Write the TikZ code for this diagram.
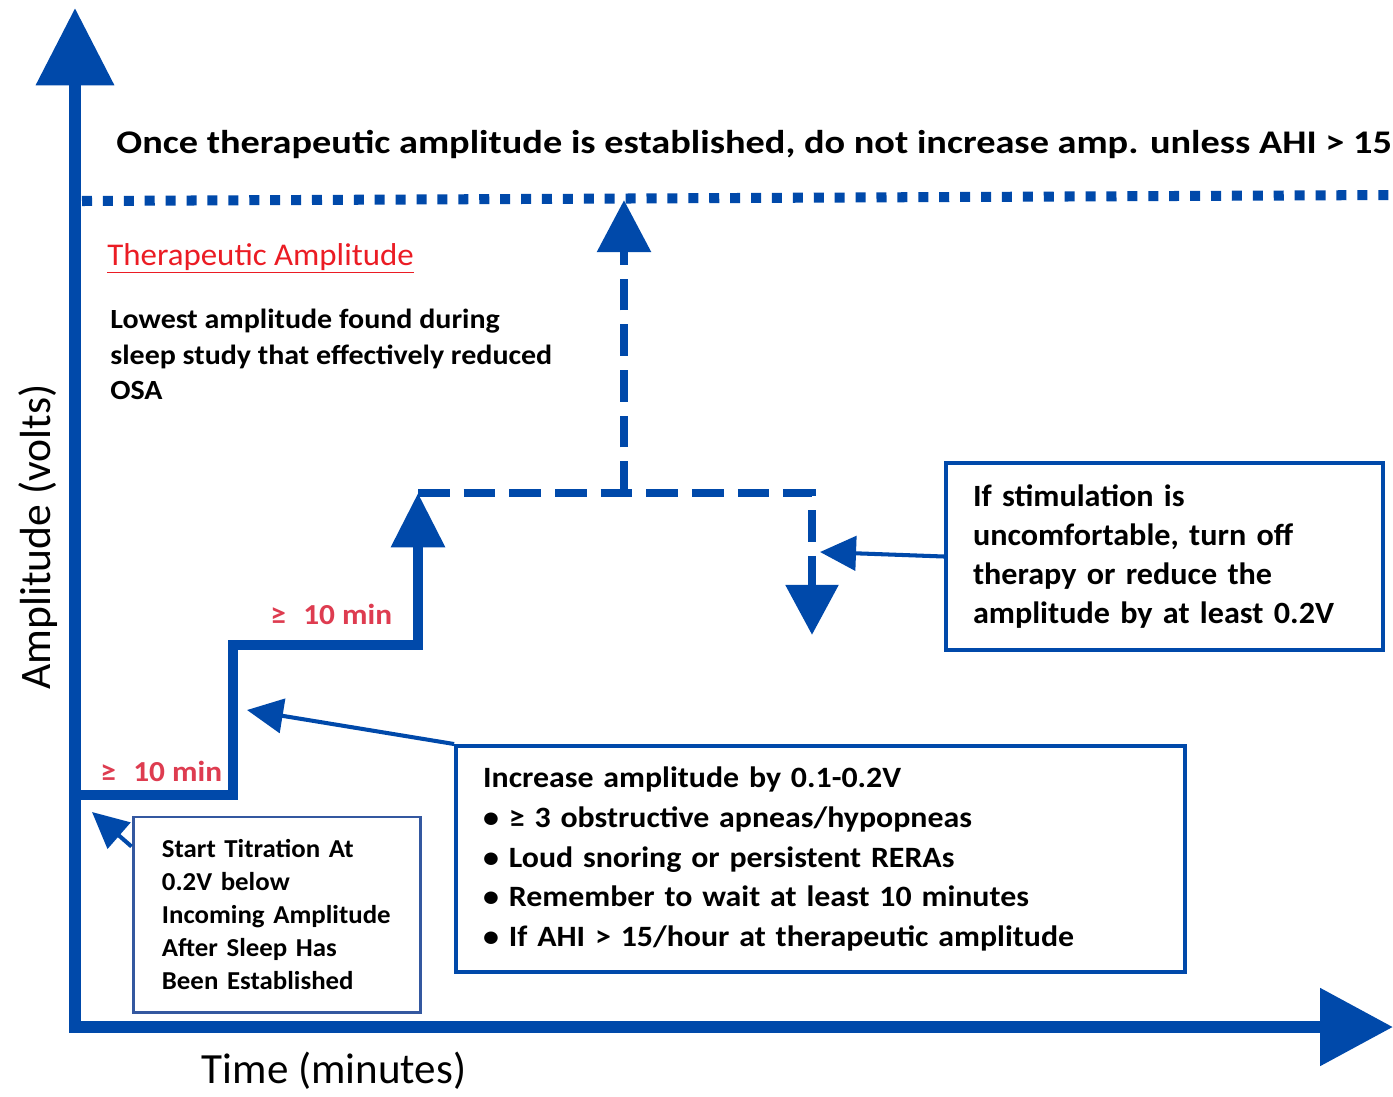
\documentclass[tikz,border=0pt]{standalone}
\usepackage{fontspec}
\setmainfont{Carlito}
\newfontfamily\strA[FakeStretch=1.04]{Carlito}
\newfontfamily\strB[FakeStretch=1.08]{Carlito}
\newfontfamily\strC[FakeStretch=1.16]{Carlito}
\usetikzlibrary{arrows.meta}
\definecolor{axisblue}{RGB}{0,73,170}
\definecolor{boxblue}{RGB}{52,88,160}
\definecolor{minred}{RGB}{222,60,80}
\definecolor{thred}{RGB}{235,28,36}
\begin{document}
\begin{tikzpicture}[x=0.02cm,y=-0.02cm,
  axisline/.style={draw=axisblue,line width=6.8pt},
  stairline/.style={draw=axisblue,line width=5.7pt,line join=miter},
  dashline/.style={draw=axisblue,line width=5.1pt,dash pattern=on 18pt off 8pt},
  dotline/.style={draw=axisblue,line width=5.7pt,dash pattern=on 5.7pt off 6.2pt},
  conn/.style={draw=axisblue,line width=2.3pt,-{Triangle[length=20.5pt,width=19.5pt]}},
  infobox/.style={draw=axisblue,line width=2.3pt,align=left,inner xsep=14pt,inner ysep=0pt},
  minlabel/.style={text=minred,font={\strB\bfseries\fontsize{16.5pt}{19pt}\selectfont},inner sep=0pt,anchor=base west},
]
\clip (0,0) rectangle (1393,1096);
\fill[white] (0,0) rectangle (1393,1096);

% axes
\coordinate (yorig) at (75,1032);
\coordinate (ytip) at (75,8);
\coordinate (xorig) at (69,1027);
\coordinate (xtip) at (1393,1027);
\draw[axisline,-{Triangle[length=44pt,width=43pt]}] (yorig) -- (ytip);
\draw[axisline,-{Triangle[length=41.5pt,width=42.7pt]}] (xorig) -- (xtip);

\node[rotate=90,font={\fontsize{24.8pt}{28pt}\selectfont}] (ylabel) at (38,537) {Amplitude (volts)};
\node[font={\fontsize{24.5pt}{28pt}\selectfont}] (xlabel) at (334,1071) {Time (minutes)};

% title and dotted line
\node[anchor=base west,inner sep=0pt,font={\strC\bfseries\fontsize{18.8pt}{22pt}\selectfont}] (title) at (116,153)
  {Once therapeutic amplitude is established, do not increase amp. unless AHI > 15};
\coordinate (dotL) at (82,201);
\coordinate (dotR) at (1393,195);
\draw[dotline] (dotL) -- (dotR);

\node[anchor=base west,inner sep=0pt,text=thred,font={\strA\fontsize{18pt}{20pt}\selectfont}] (thamp) at (107,265)
  {\underline{Therapeutic Amplitude}};
\node[anchor=north west,inner sep=0pt,align=left,font={\strB\bfseries\fontsize{15.8pt}{20.2pt}\selectfont}] (lowest) at (110,309)
  {Lowest amplitude found during\\sleep study that effectively reduced\\OSA};

% staircase
\coordinate (s0) at (79,795);
\coordinate (s1) at (233,795);
\coordinate (s2) at (233,645);
\coordinate (s3) at (418,645);
\coordinate (s4) at (418,493);
\draw[stairline,-{Triangle[length=31pt,width=29.6pt]}] (s0) -- (s1) -- (s2) -- (s3) -- (s4);

\coordinate (d1) at (812,493);
\coordinate (d2) at (812,635);
\draw[dashline,-{Triangle[length=28.5pt,width=29pt]}] (s4) -- (d1) -- (d2);
\coordinate (u0) at (624,493);
\coordinate (u1) at (624,200);
\draw[dashline,-{Triangle[length=29.6pt,width=29.6pt]}] (u0) -- (u1);

\node[minlabel] (min1) at (100,781) {≥\hspace{0.6em}10 min};
\node[minlabel] (min2) at (270,624) {≥\hspace{0.6em}10 min};

% boxes
\node[draw=boxblue,line width=1.7pt,align=left,inner xsep=14.5pt,inner ysep=0pt,
      text width=131pt,minimum width=163.9pt,minimum height=111pt,
      font={\strA\bfseries\fontsize{14.7pt}{18.8pt}\selectfont}] (box1) at (277,914.5)
  {Start Titration At\\0.2V below\\Incoming Amplitude\\After Sleep Has\\Been Established};

\node[infobox,text width=384pt,minimum width=414.8pt,minimum height=128.6pt,
      font={\strB\bfseries\fontsize{16.8pt}{22.5pt}\selectfont}] (box2) at (820.5,859)
  {Increase amplitude by 0.1-0.2V\\• ≥ 3 obstructive apneas/hypopneas\\• Loud snoring or persistent RERAs\\• Remember to wait at least 10 minutes\\• If AHI > 15/hour at therapeutic amplitude};

\node[infobox,text width=218pt,minimum width=248.7pt,minimum height=106.4pt,
      font={\strA\bfseries\fontsize{17.6pt}{22.2pt}\selectfont}] (box3) at (1164.5,556.5)
  {If stimulation is\\uncomfortable, turn off\\therapy or reduce the\\amplitude by at least 0.2V};

% connectors
\coordinate (t1) at (92,812);
\coordinate (t2) at (247,710);
\coordinate (t3) at (820,552);
\draw[conn] (box1.north west) ++(0,31) -- (t1);
\draw[conn] (box2.north west) -- (t2);
\draw[conn] (box3.west) -- (t3);
\end{tikzpicture}
\end{document}
